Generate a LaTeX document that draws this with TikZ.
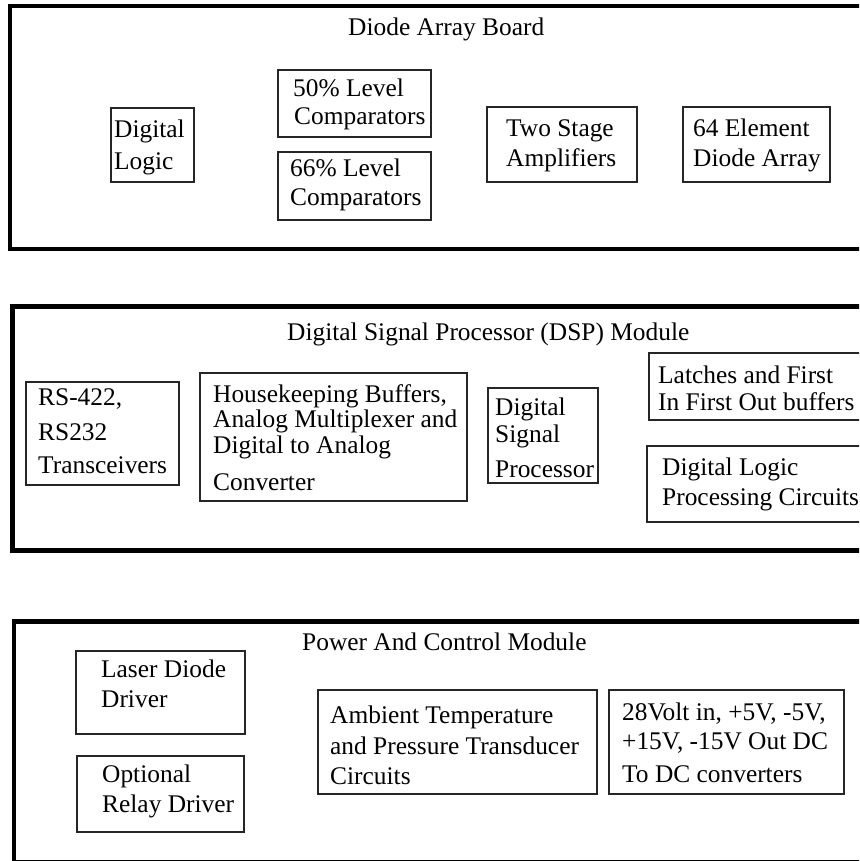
\documentclass[tikz,border=0pt]{standalone}
\usepackage{fontspec}
\setmainfont{Liberation Serif}
\begin{document}
\begin{tikzpicture}[x=1pt,y=-1pt,
  panel/.style={draw=black,line width=4.5pt},
  box/.style={draw=black!85,line width=1.6pt},
  txt/.style={inner sep=0pt,anchor=base west,font=\fontsize{25.4}{30}\selectfont,text=black}]
\useasboundingbox (0,0) rectangle (859,861);
\clip (0,0) rectangle (859,861);
% panels
\draw[panel] (890,6) -- (10,6) -- (10,249) -- (890,249);
\draw[panel] (890,306.5) -- (12.5,306.5) -- (12.5,550.5) -- (890,550.5);
\draw[panel] (890,621.5) -- (14,621.5) -- (14,862) -- (890,862);
% titles
\node[txt] (t1) at (348,36) {Diode Array Board};
\node[txt] (t2) at (287,340) {Digital Signal Processor (DSP) Module};
\node[txt] (t3) at (302,650) {Power And Control Module};
% panel 1 boxes
\draw[box] (111,108) rectangle (194,182);
\node[txt] (dl1) at (114,138) {Digital};
\node[txt] (dl2) at (114,170) {Logic};
\draw[box] (278,70) rectangle (431,137);
\node[txt] (ca1) at (293,97) {50\% Level};
\node[txt] (ca2) at (294,125) {Comparators};
\draw[box] (278,152) rectangle (431,220);
\node[txt] (cb1) at (290,177) {66\% Level};
\node[txt] (cb2) at (290,205) {Comparators};
\draw[box] (487,107) rectangle (637,182);
\node[txt] (am1) at (506,137) {Two Stage};
\node[txt] (am2) at (506,167) {Amplifiers};
\draw[box] (683,107) rectangle (830,182);
\node[txt] (ar1) at (693,137) {64 Element};
\node[txt] (ar2) at (693,167) {Diode Array};
% panel 2 boxes
\draw[box] (26,382) rectangle (179,485);
\node[txt] (rs1) at (38,405) {RS-422,};
\node[txt] (rs2) at (38,440) {RS232};
\node[txt] (rs3) at (38,473) {Transceivers};
\draw[box] (200,373) rectangle (467,501);
\node[txt] (hk1) at (213,402) {Housekeeping Buffers,};
\node[txt] (hk2) at (213,427) {Analog Multiplexer and};
\node[txt] (hk3) at (213,453) {Digital to Analog};
\node[txt] (hk4) at (213,490) {Converter};
\draw[box] (488,388) rectangle (598,483);
\node[txt] (ds1) at (495,415) {Digital};
\node[txt] (ds2) at (495,442) {Signal};
\node[txt] (ds3) at (495,477) {Processor};
\draw[box] (649,353) rectangle (880,420);
\node[txt] (la1) at (658,383) {Latches and First};
\node[txt] (la2) at (658,410) {In First Out buffers};
\draw[box] (647,446) rectangle (880,522);
\node[txt] (lp1) at (662,475) {Digital Logic};
\node[txt] (lp2) at (662,505) {Processing Circuits};
% panel 3 boxes
\draw[box] (76,651) rectangle (245,734);
\node[txt] (ld1) at (101,677) {Laser Diode};
\node[txt] (ld2) at (101,707) {Driver};
\draw[box] (77,756) rectangle (244,832);
\node[txt] (rd1) at (102,782) {Optional};
\node[txt] (rd2) at (102,812) {Relay Driver};
\draw[box] (318,690) rectangle (597,794);
\node[txt] (ab1) at (330,723) {Ambient Temperature};
\node[txt] (ab2) at (330,754) {and Pressure Transducer};
\node[txt] (ab3) at (330,784) {Circuits};
\draw[box] (609,690) rectangle (844,794);
\node[txt] (pw1) at (622,720) {28Volt in, +5V, -5V,};
\node[txt] (pw2) at (622,749) {+15V, -15V Out DC};
\node[txt] (pw3) at (622,782) {To DC converters};
\end{tikzpicture}
\end{document}
